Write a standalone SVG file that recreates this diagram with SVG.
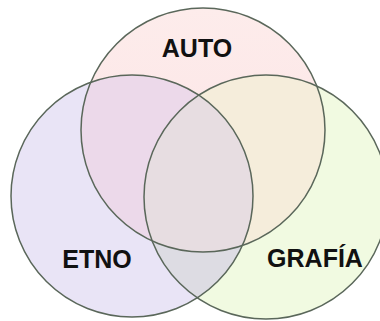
<svg xmlns="http://www.w3.org/2000/svg" width="380" height="321" viewBox="0 0 380 321">
  <style>
    .ring { fill: none; stroke: #5a675a; stroke-width: 1.5; }
    .lbl { font-family: "Liberation Sans", Arial, sans-serif; font-weight: bold; font-size: 25px; fill: #111; text-anchor: middle; }
  </style>
  <defs>
    <clipPath id="clipT"><circle cx="203" cy="130" r="122"/></clipPath>
    <clipPath id="clipL"><circle cx="132" cy="196" r="121"/></clipPath>
    <clipPath id="clipR"><circle cx="266" cy="197" r="122"/></clipPath>
    <linearGradient id="gT" x1="0" y1="0" x2="0" y2="1">
      <stop offset="0" stop-color="#fdeceb"/>
      <stop offset="1" stop-color="#fbe2e4"/>
    </linearGradient>
  </defs>
  <rect width="380" height="321" fill="#ffffff"/>
  <g id="fills">
    <circle cx="203" cy="130" r="122" fill="url(#gT)"/>
    <circle cx="132" cy="196" r="121" fill="#e9e4f6"/>
    <circle cx="266" cy="197" r="122" fill="#f1fae1"/>
    <circle cx="203" cy="130" r="122" fill="#ecd9ea" clip-path="url(#clipL)"/>
    <circle cx="203" cy="130" r="122" fill="#f5eddb" clip-path="url(#clipR)"/>
    <circle cx="132" cy="196" r="121" fill="#dddce3" clip-path="url(#clipR)"/>
    <g clip-path="url(#clipR)">
      <circle cx="203" cy="130" r="122" fill="#e7dde1" clip-path="url(#clipL)"/>
    </g>
  </g>
  <g id="node-auto">
    <circle class="ring" cx="203" cy="130" r="122"/>
    <text class="lbl" x="197" y="57">AUTO</text>
  </g>
  <g id="node-etno">
    <circle class="ring" cx="132" cy="196" r="121"/>
    <text class="lbl" x="97" y="268">ETNO</text>
  </g>
  <g id="node-grafia">
    <circle class="ring" cx="266" cy="197" r="122"/>
    <text class="lbl" x="315" y="267">GRAFÍA</text>
  </g>
  <g id="connectors"></g>
</svg>
